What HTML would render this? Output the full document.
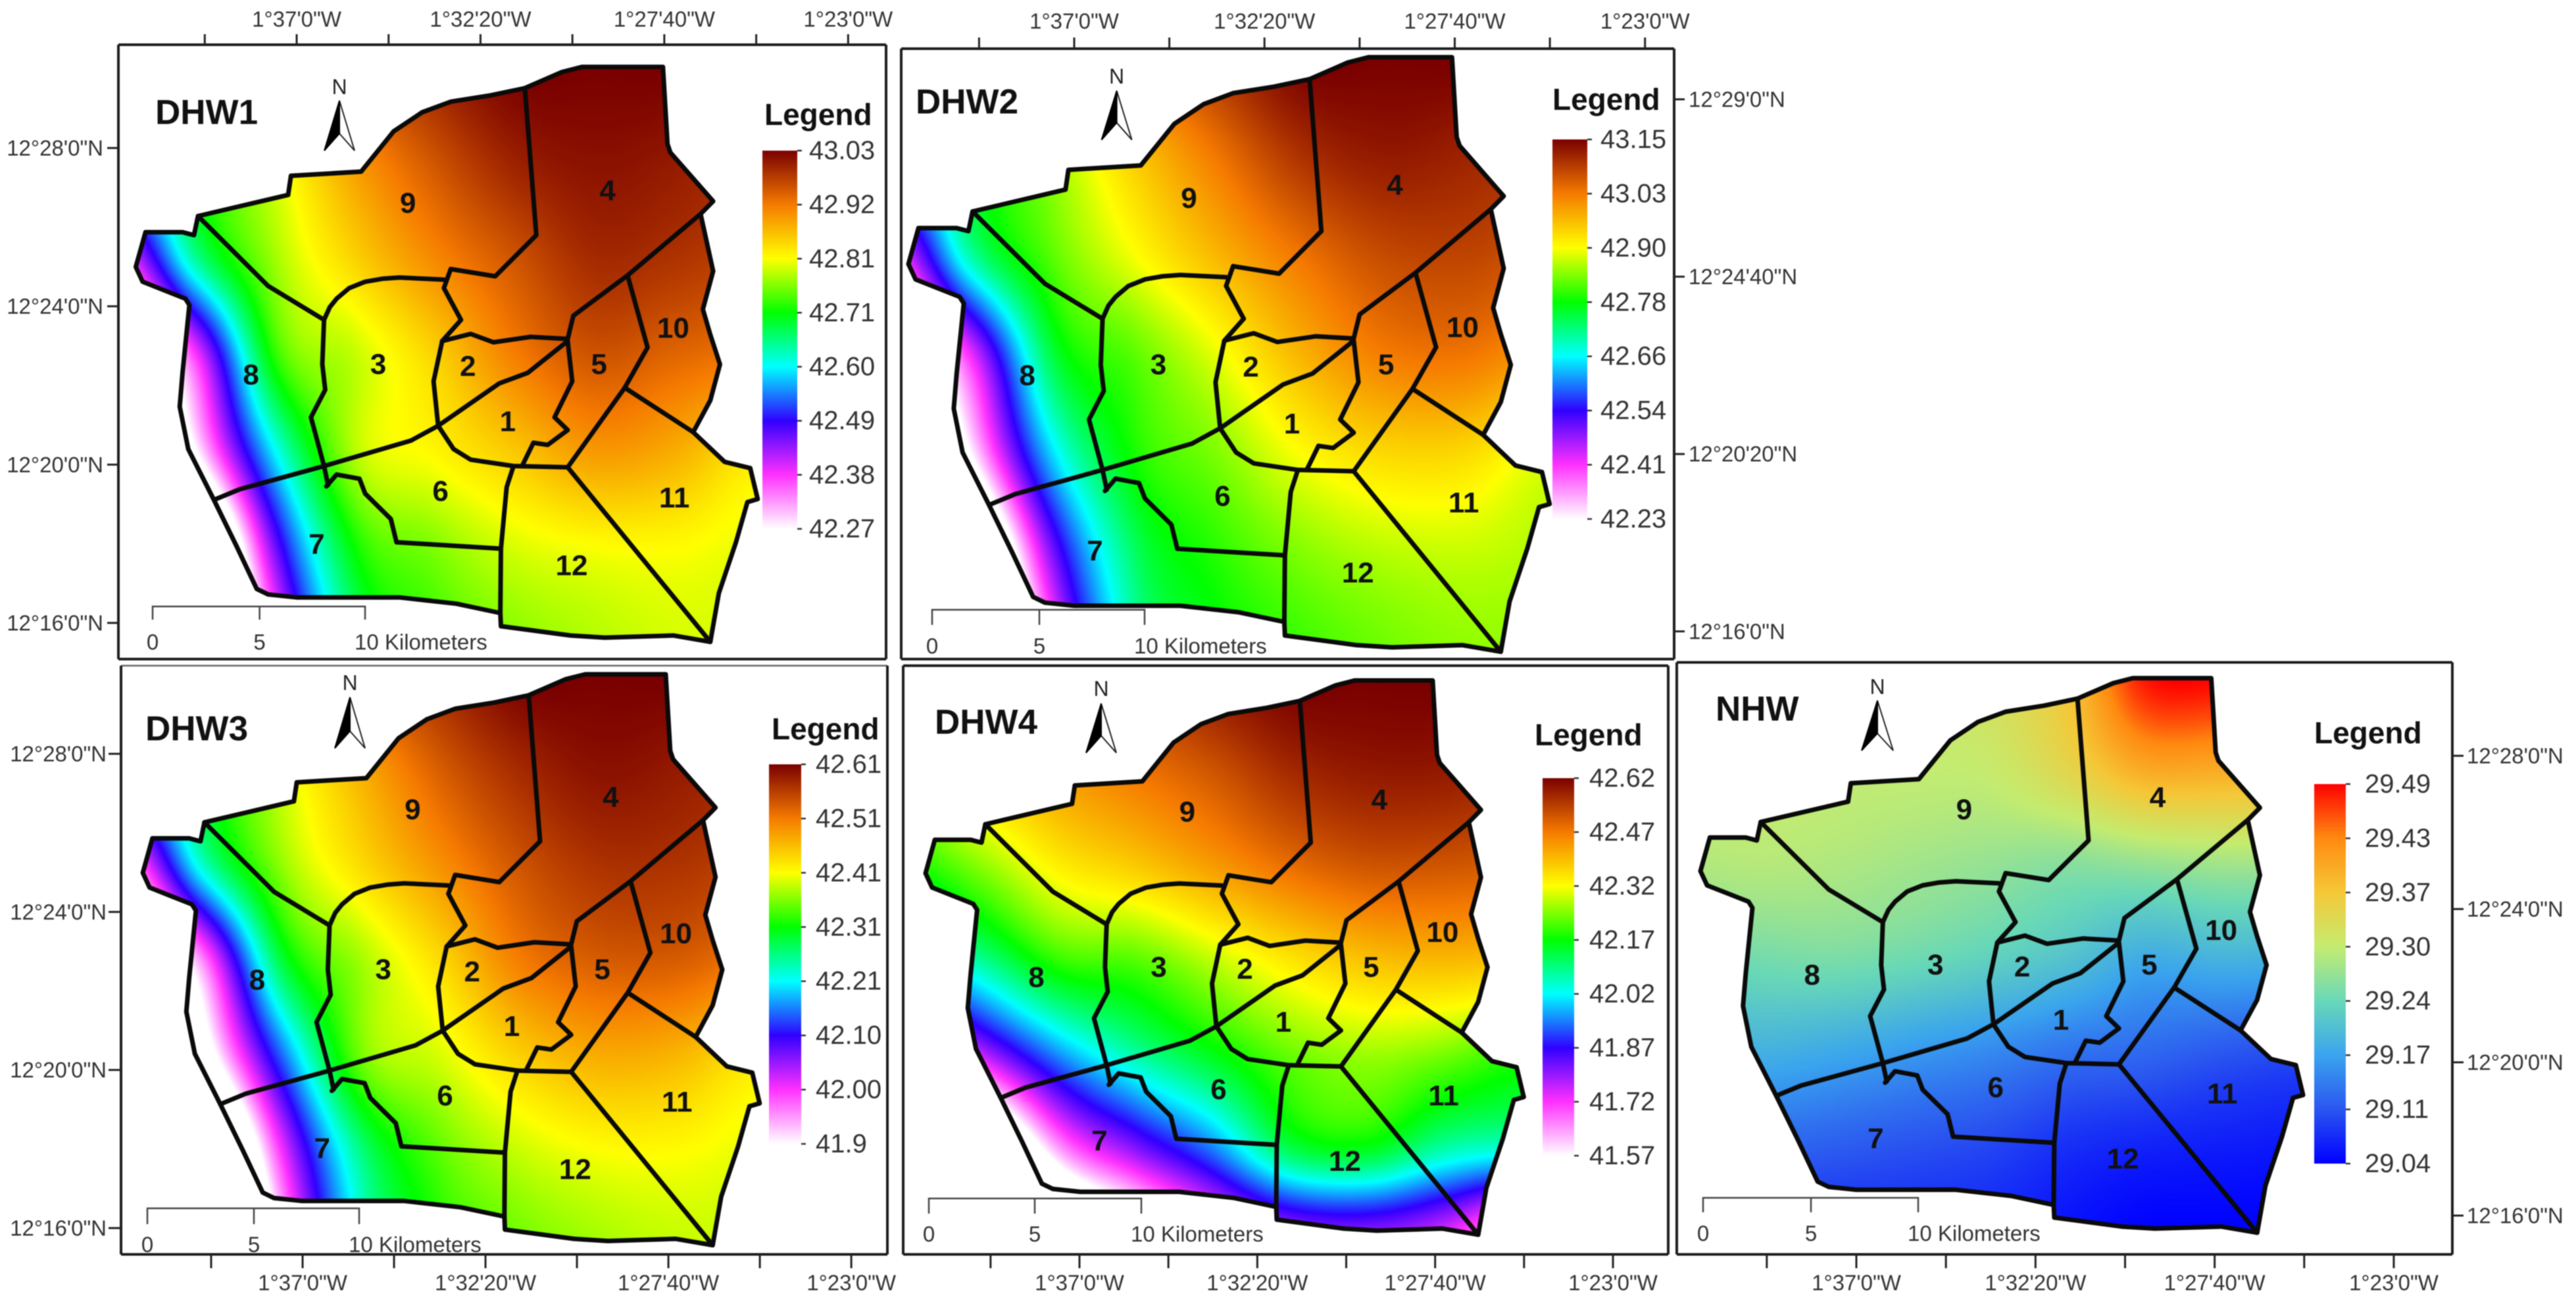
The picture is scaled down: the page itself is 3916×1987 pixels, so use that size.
<!DOCTYPE html>
<html lang="en">
<head>
<meta charset="utf-8">
<title>DHW and NHW surface maps</title>
<style>
html,body{margin:0;padding:0;background:#fff;}
#stage{position:relative;width:3916px;height:1987px;overflow:hidden;background:#fff;font-family:"Liberation Sans",Arial,sans-serif;}
#surface,#overlay{position:absolute;left:0;top:0;}
#overlay{filter:blur(.8px);}
</style>
</head>
<body>
<div id="stage">
<canvas id="surface" width="3916" height="1987"></canvas>
<svg id="overlay" xmlns="http://www.w3.org/2000/svg" width="3916" height="1987" viewBox="0 0 3916 1987"></svg>
</div>
<script>
/* Surface samples: position on each panel's legend scale (0 = bottom, 1 = top),
   read from the picture on a regular grid across the map (west to east, north to south). */
const dhw1Surface = [
 [.50,.62,.78,.90,.96,1,1,1,.98],
 [.40,.58,.70,.82,.90,.96,.98,.97,.95],
 [.10,.48,.66,.76,.84,.90,.95,.94,.92],
 [-.25,.13,.59,.68,.76,.85,.90,.88,.86],
 [-.5,-.02,.42,.67,.72,.77,.82,.80,.74],
 [-.7,-.4,.23,.57,.64,.69,.71,.715,.70],
 [-.9,-.6,.10,.50,.60,.645,.67,.69,.69]
];
const dhw2Surface = [
 [.45,.58,.74,.86,.94,1,1,1,.98],
 [.38,.55,.66,.77,.86,.94,.97,.96,.94],
 [.10,.47,.62,.71,.79,.86,.91,.92,.90],
 [-.2,.14,.53,.62,.70,.79,.85,.86,.82],
 [-.5,-.02,.40,.58,.64,.71,.75,.75,.70],
 [-.7,-.35,.22,.51,.59,.64,.67,.68,.67],
 [-.9,-.6,.10,.47,.56,.60,.63,.65,.65]
];
const dhw3Surface = [
 [.45,.60,.76,.89,.95,1,1,1,.98],
 [.38,.55,.69,.80,.89,.95,.98,.97,.95],
 [.05,.45,.65,.75,.83,.90,.94,.94,.92],
 [-.3,.07,.53,.66,.75,.85,.89,.89,.86],
 [-.6,-.1,.33,.63,.69,.76,.80,.79,.74],
 [-.8,-.45,.13,.49,.62,.68,.71,.715,.70],
 [-1,-.7,.02,.44,.58,.63,.66,.68,.68]
];
const dhw4Surface = [
 [.80,.85,.88,.92,.97,1,1,1,.98],
 [.68,.76,.82,.86,.90,.95,.97,.97,.95],
 [.58,.65,.73,.77,.82,.87,.90,.90,.89],
 [.38,.49,.60,.62,.68,.74,.78,.79,.78],
 [-.02,.19,.37,.48,.56,.63,.66,.64,.60],
 [-.6,-.3,.07,.23,.36,.53,.56,.48,.45],
 [-1,-.7,-.3,-.1,.08,.18,.20,.15,0]
];
const nhwSurface = [
 [.58,.58,.58,.58,.62,.72,.98,1,1],
 [.57,.57,.57,.57,.58,.66,.78,.78,.78],
 [.54,.55,.54,.52,.50,.48,.50,.52,.52],
 [.43,.45,.46,.44,.41,.37,.31,.33,.32],
 [.30,.32,.30,.27,.24,.20,.18,.15,.13],
 [.20,.18,.16,.14,.12,.08,.06,.05,.04],
 [.08,.08,.07,.07,.06,.03,0,0,0]
];

/* Legend values as printed, top to bottom */
const dhw1LegendLabels = ["43.03","42.92","42.81","42.71","42.60","42.49","42.38","42.27"];
const dhw2LegendLabels = ["43.15","43.03","42.90","42.78","42.66","42.54","42.41","42.23"];
const dhw3LegendLabels = ["42.61","42.51","42.41","42.31","42.21","42.10","42.00","41.9"];
const dhw4LegendLabels = ["42.62","42.47","42.32","42.17","42.02","41.87","41.72","41.57"];
const nhwLegendLabels  = ["29.49","29.43","29.37","29.30","29.24","29.17","29.11","29.04"];

/* Graticule: longitudes / latitudes in arc-seconds */
const lonTickSeconds = [5960,5820,5680,5540,5400,5260,5120,4980];
const lonTickLabels  = ["",'1°37\'0"W',"",'1°32\'20"W',"",'1°27\'40"W',"",'1°23\'0"W'];
const latTickSeconds = [44880,44640,44400,44160];
const latTickLabels  = ['12°28\'0"N','12°24\'0"N','12°20\'0"N','12°16\'0"N'];
const latTickSecondsB = [44940,44680,44420,44160];
const latTickLabelsB  = ['12°29\'0"N','12°24\'40"N','12°20\'20"N','12°16\'0"N'];

/* Colour ramps, legend bottom to top */
const rainbowRamp = ["#ffffff","#ff30ff","#3000ff","#00ffff","#00ff00","#ffff00","#f57a00","#7a0000"];
const coolWarmRamp = ["#0000ff","#2a55f0","#3aa4ee","#68d8b8","#c4ec70","#f5c838","#ff8a10","#ff0000"];

/* District geometry, in a shared map space */
const outerBoundary = [[1162,158],[1020,158],[985,170],[920,208],[860,225],[790,240],[740,265],[690,310],[660,360],[633,405],[510,415],[505,460],[347,510],[340,555],[320,548],[255,548],[238,630],[250,665],[325,705],[332,720],[320,880],[315,960],[330,1060],[375,1180],[415,1290],[450,1390],[470,1403],[520,1410],[700,1410],[800,1425],[877,1447],[878,1478],[1000,1500],[1060,1505],[1180,1500],[1245,1515],[1260,1400],[1290,1280],[1310,1185],[1328,1178],[1315,1105],[1270,1090],[1215,1020],[1245,945],[1262,860],[1245,790],[1232,730],[1250,640],[1228,505],[1250,475],[1175,360],[1170,340]];
const innerBoundaries = [
 [[920,208],[940,555],[868,652],[790,635],[778,680],[808,755],[775,805]],
 [[347,510],[470,675],[568,755]],
 [[568,755],[578,725],[590,705],[612,680],[640,665],[670,658],[700,655],[778,660]],
 [[775,805],[825,788],[865,808],[930,795],[995,800]],
 [[775,805],[760,900],[768,1005]],
 [[568,755],[565,860],[570,920],[545,985],[568,1100],[575,1145]],
 [[375,1180],[420,1155],[568,1100],[720,1040],[768,1005],[875,905],[925,880],[995,805]],
 [[768,1005],[795,1060],[825,1085],[900,1100],[995,1103]],
 [[995,805],[1003,900],[972,985],[995,1015],[960,1050],[935,1045],[915,1100]],
 [[995,800],[1005,745],[1100,650],[1135,820],[1095,915],[995,1103]],
 [[1228,505],[1100,650]],
 [[1095,915],[1215,1020]],
 [[900,1100],[888,1150],[878,1295],[877,1447]],
 [[995,1103],[1245,1515]],
 [[878,1295],[695,1280],[685,1225],[640,1165],[630,1130],[590,1120],[572,1148]]
];
const districtLabels = [["1",890,995],["2",820,865],["3",663,860],["4",1065,450],["5",1050,860],["6",772,1160],["7",555,1285],["8",440,885],["9",715,480],["10",1180,775],["11",1182,1175],["12",1002,1335]];

const panels = [
 {id:"dhw1",title:"DHW1",titleX:236,titleY:171,surface:dhw1Surface,ramp:rainbowRamp,legendLabels:dhw1LegendLabels,
  frame:{l:180,t:68,r:1347,b:1002,light:false},map:{ox:0,oy:0,kx:.8673,ky:.6441},
  north:{x:516,n:132,tip:153,base:229,hw:23},
  legend:{tx:1162,ty:174,l:1159,r:1212,top:229,bottom:804,lx:1230},
  bar:{x0:232,xm:394.6,x1:555,y:922,tick:942,label:976},
  lonAxis:{side:"top",xA:451,k:.998,y:68,len:-16,labelY:29},
  latAxis:{side:"left",secs:latTickSeconds,labels:latTickLabels,yA:225,k:1.0028,x:180,len:-17,labelX:157}},
 {id:"dhw2",title:"DHW2",titleX:1392,titleY:155,surface:dhw2Surface,ramp:rainbowRamp,legendLabels:dhw2LegendLabels,
  frame:{l:1370,t:74,r:2545,b:1002,light:false},map:{ox:1168.2,oy:-18.2,kx:.8942,ky:.666},
  north:{x:1697.6,n:116,tip:138,base:212.6,hw:23},
  legend:{tx:2360,ty:151,l:2360,r:2413,top:212,bottom:789,lx:2433},
  bar:{x0:1417,xm:1580,x1:1740,y:927,tick:950,label:982},
  lonAxis:{side:"top",xA:1633,k:1.033,y:74,len:-17,labelY:32},
  latAxis:{side:"right",secs:latTickSecondsB,labels:latTickLabelsB,yA:151,k:1.037,x:2545,len:16,labelX:2567}},
 {id:"dhw3",title:"DHW3",titleX:221,titleY:1108,surface:dhw3Surface,ramp:rainbowRamp,legendLabels:dhw3LegendLabels,
  frame:{l:184,t:1012,r:1349,b:1907,light:false},map:{ox:12.3,oy:924,kx:.8603,ky:.6396},
  north:{x:532,n:1038,tip:1060,base:1137.5,hw:23},
  legend:{tx:1173,ty:1108,l:1169,r:1218,top:1162,bottom:1739,lx:1240},
  bar:{x0:224,xm:386,x1:546,y:1837,tick:1861,label:1892},
  lonAxis:{side:"bottom",xA:460,k:.993,y:1907,len:21,labelY:1950},
  latAxis:{side:"left",secs:latTickSeconds,labels:latTickLabels,yA:1146,k:1.0014,x:184,len:-19,labelX:162}},
 {id:"dhw4",title:"DHW4",titleX:1421,titleY:1098,surface:dhw4Surface,ramp:rainbowRamp,legendLabels:dhw4LegendLabels,
  frame:{l:1373,t:1012,r:2536,b:1907,light:true},map:{ox:1208.4,oy:936.4,kx:.8343,ky:.6209},
  north:{x:1674,n:1047,tip:1069.5,base:1144.5,hw:23},
  legend:{tx:2333,ty:1117,l:2345,r:2393,top:1183,bottom:1757,lx:2416},
  bar:{x0:1412,xm:1573,x1:1735,y:1822,tick:1845,label:1876},
  lonAxis:{side:"bottom",xA:1641,k:.9655,y:1907,len:21,labelY:1950},
  latAxis:null},
 {id:"nhw",title:"NHW",titleX:2608,titleY:1078,surface:nhwSurface,ramp:coolWarmRamp,legendLabels:nhwLegendLabels,
  frame:{l:2549,t:1007,r:3728,b:1907,light:false},map:{ox:2385,oy:932.9,kx:.8404,ky:.6212},
  north:{x:2854,n:1044,tip:1065,base:1141,hw:24},
  legend:{tx:3518,ty:1114,l:3518,r:3566,top:1192,bottom:1769,lx:3595},
  bar:{x0:2589,xm:2753,x1:2916,y:1821,tick:1843,label:1875},
  lonAxis:{side:"bottom",xA:2822,k:.9726,y:1907,len:21,labelY:1950},
  latAxis:{side:"right",secs:latTickSeconds,labels:latTickLabels,yA:1149,k:.9708,x:3728,len:17,labelX:3750}}
];

const GRID_X0 = 200, GRID_DX = 140, GRID_Y0 = 150, GRID_DY = 230;
const SVG_NS = "http://www.w3.org/2000/svg";
const overlay = document.getElementById("overlay");
const defs = document.createElementNS(SVG_NS, "defs");
overlay.appendChild(defs);

function add(parent, tag, attrs, text) {
  const node = document.createElementNS(SVG_NS, tag);
  for (const k in attrs) node.setAttribute(k, attrs[k]);
  if (text !== undefined) node.textContent = text;
  parent.appendChild(node);
  return node;
}
function hexToRgb(h) {
  return [parseInt(h.slice(1,3),16), parseInt(h.slice(3,5),16), parseInt(h.slice(5,7),16)];
}
function rampLookup(ramp) {
  const stops = ramp.map(hexToRgb), n = 1024, table = new Uint8Array((n + 1) * 3);
  for (let i = 0; i <= n; i++) {
    const p = i / n * (stops.length - 1), a = Math.min(Math.floor(p), stops.length - 2), f = p - a;
    for (let c = 0; c < 3; c++) table[i*3+c] = Math.round(stops[a][c] + (stops[a+1][c] - stops[a][c]) * f);
  }
  return table;
}
function spline(a, b, c, d, f) {
  return b + .5 * f * (c - a + f * (2*a - 5*b + 4*c - d + f * (3*(b-c) + d - a)));
}
function surfaceAt(grid, zx, zy) {
  const rows = grid.length, cols = grid[0].length;
  const u = (zx - GRID_X0) / GRID_DX, v = (zy - GRID_Y0) / GRID_DY;
  const i = Math.max(0, Math.min(cols - 2, Math.floor(u))), j = Math.max(0, Math.min(rows - 2, Math.floor(v)));
  const fx = u - i, fy = v - j, vals = [];
  for (let r = j - 1; r <= j + 2; r++) {
    const row = grid[Math.max(0, Math.min(rows - 1, r))];
    vals.push(spline(row[Math.max(0,i-1)], row[i], row[i+1], row[Math.min(cols-1,i+2)], fx));
  }
  return spline(vals[0], vals[1], vals[2], vals[3], fy);
}
function pathFrom(points, m, closed) {
  return points.map((p, i) => (i ? "L" : "M") + (m.ox + p[0]*m.kx).toFixed(1) + " " + (m.oy + p[1]*m.ky).toFixed(1)).join(" ") + (closed ? " Z" : "");
}

/* Paint the continuous surfaces */
const ctx = document.getElementById("surface").getContext("2d");
panels.forEach(function (panel) {
  const m = panel.map, step = 2, table = rampLookup(panel.ramp);
  const xs = outerBoundary.map(p => m.ox + p[0]*m.kx), ys = outerBoundary.map(p => m.oy + p[1]*m.ky);
  const x0 = Math.floor(Math.min(...xs)) - 4, x1 = Math.ceil(Math.max(...xs)) + 4;
  const y0 = Math.floor(Math.min(...ys)) - 4, y1 = Math.ceil(Math.max(...ys)) + 4;
  const w = Math.ceil((x1 - x0) / step), h = Math.ceil((y1 - y0) / step);
  const off = document.createElement("canvas");
  off.width = w; off.height = h;
  const octx = off.getContext("2d"), img = octx.createImageData(w, h);
  for (let py = 0; py < h; py++) {
    const zy = (y0 + py*step - m.oy) / m.ky;
    for (let px = 0; px < w; px++) {
      const zx = (x0 + px*step - m.ox) / m.kx;
      const t = Math.max(0, Math.min(1, surfaceAt(panel.surface, zx, zy)));
      const idx = Math.round(t * 1024) * 3, o = (py*w + px) * 4;
      img.data[o] = table[idx]; img.data[o+1] = table[idx+1]; img.data[o+2] = table[idx+2]; img.data[o+3] = 255;
    }
  }
  octx.putImageData(img, 0, 0);
  ctx.save();
  ctx.beginPath();
  outerBoundary.forEach(function (p, i) {
    const X = m.ox + p[0]*m.kx, Y = m.oy + p[1]*m.ky;
    if (i) ctx.lineTo(X, Y); else ctx.moveTo(X, Y);
  });
  ctx.closePath();
  ctx.clip();
  ctx.imageSmoothingEnabled = true;
  ctx.drawImage(off, x0, y0, w*step, h*step);
  ctx.restore();
});

/* Panels */
panels.forEach(function (panel) {
  const g = add(overlay, "g", {});
  
  

  /* frame */
  const f = panel.frame, strong = "#1c1c1c", soft = panel.light ? "#8a8a8a" : strong, softW = panel.light ? 2 : 4;
  const frameTop = add(g, "line", {x1:f.l,y1:f.t,x2:f.r,y2:f.t,stroke:(panel.id==="dhw3"?"#666":soft),"stroke-width":(panel.id==="dhw3"?2.5:softW)});
  
  
  const frameRight = add(g, "line", {x1:f.r,y1:f.t,x2:f.r,y2:f.b,stroke:soft,"stroke-width":softW});
  
  
  const frameBottom = add(g, "line", {x1:f.l,y1:f.b,x2:f.r,y2:f.b,stroke:strong,"stroke-width":4});
  
  
  const frameLeft = add(g, "line", {x1:f.l,y1:f.t,x2:f.l,y2:f.b,stroke:strong,"stroke-width":4});
  
  

  /* longitude axis */
  const lon = panel.lonAxis;
  const lonX = s => lon.xA + (5820 - s) * lon.k;
  lonTickSeconds.forEach(function (s, i) {
    const tick = add(g, "line", {x1:lonX(s),y1:lon.y,x2:lonX(s),y2:lon.y+lon.len,stroke:"#222","stroke-width":3});
    
    
    if (lonTickLabels[i]) {
      const lab = add(g, "text", {x:lonX(s),y:lon.labelY,"text-anchor":"middle","dominant-baseline":"central","font-size":33,fill:"#333"}, lonTickLabels[i]);
      
      
    }
  });

  /* latitude axis */
  const lat = panel.latAxis;
  if (lat) {
    const latY = s => lat.yA + (lat.secs[0] - s) * lat.k;
    lat.secs.forEach(function (s, i) {
      const tick = add(g, "line", {x1:lat.x,y1:latY(s),x2:lat.x+lat.len,y2:latY(s),stroke:"#222","stroke-width":3});
      
      
      const lab = add(g, "text", {x:lat.labelX,y:latY(s),"text-anchor":lat.side==="left"?"end":"start","dominant-baseline":"central","font-size":33,fill:"#333"}, lat.labels[i]);
      
      
    });
  }

  /* district boundaries */
  const outer = add(g, "path", {d:pathFrom(outerBoundary, panel.map, true),fill:"none",stroke:"#0a0a0a","stroke-width":7,"stroke-linejoin":"round"});
  
  
  innerBoundaries.forEach(function (line) {
    const seg = add(g, "path", {d:pathFrom(line, panel.map, false),fill:"none",stroke:"#0a0a0a","stroke-width":7,"stroke-linejoin":"round","stroke-linecap":"round"});
    
    
  });
  districtLabels.forEach(function (d) {
    const lab = add(g, "text", {x:panel.map.ox+d[1]*panel.map.kx,y:panel.map.oy+d[2]*panel.map.ky,"text-anchor":"middle","dominant-baseline":"central","font-size":44,"font-weight":"bold",fill:"#111"}, d[0]);
    
    
  });

  /* title */
  const title = add(g, "text", {x:panel.titleX,y:panel.titleY,"dominant-baseline":"central","font-size":53,"font-weight":"bold",fill:"#111"}, panel.title);
  
  

  /* north arrow */
  const n = panel.north;
  const nLetter = add(g, "text", {x:n.x,y:n.n,"text-anchor":"middle","dominant-baseline":"central","font-size":32,fill:"#222"}, "N");
  
  
  const nRight = add(g, "polygon", {points:n.x+","+n.tip+" "+(n.x+n.hw)+","+n.base+" "+n.x+","+(n.base-26),fill:"#fff",stroke:"#222","stroke-width":2});
  
  
  const nLeft = add(g, "polygon", {points:n.x+","+n.tip+" "+(n.x-n.hw)+","+n.base+" "+n.x+","+(n.base-26),fill:"#000",stroke:"#000","stroke-width":2});
  
  

  /* legend */
  const L = panel.legend;
  const legendTitle = add(g, "text", {x:L.tx,y:L.ty,"dominant-baseline":"central","font-size":46,"font-weight":"bold",fill:"#111"}, "Legend");
  
  
  const gradId = panel.id + "-ramp";
  const grad = add(defs, "linearGradient", {id:gradId,x1:0,y1:1,x2:0,y2:0});
  panel.ramp.forEach(function (c, i) {
    add(grad, "stop", {offset:i/(panel.ramp.length-1),"stop-color":c});
  });
  const legendBar = add(g, "rect", {x:L.l,y:L.top,width:L.r-L.l,height:L.bottom-L.top,fill:"url(#"+gradId+")"});
  
  
  const legendY = i => L.top + (L.bottom - L.top) * i / (panel.legendLabels.length - 1);
  panel.legendLabels.forEach(function (txt, i) {
    const tick = add(g, "line", {x1:L.r,y1:legendY(i),x2:L.r+7,y2:legendY(i),stroke:"#333","stroke-width":2.5});
    
    
    const lab = add(g, "text", {x:L.lx,y:legendY(i),"dominant-baseline":"central","font-size":40,fill:"#333"}, txt);
    
    
  });

  /* scale bar */
  const b = panel.bar;
  const scaleLine = add(g, "path", {d:"M"+b.x0+" "+b.tick+" V"+b.y+" H"+b.x1+" V"+b.tick+" M"+b.xm+" "+b.y+" V"+b.tick,fill:"none",stroke:"#444","stroke-width":2.5});
  
  
  const s0 = add(g, "text", {x:b.x0,y:b.label,"text-anchor":"middle","dominant-baseline":"central","font-size":33,fill:"#333"}, "0");
  
  
  const s5 = add(g, "text", {x:b.xm,y:b.label,"text-anchor":"middle","dominant-baseline":"central","font-size":33,fill:"#333"}, "5");
  
  
  const s10 = add(g, "text", {x:b.x1-16,y:b.label,"dominant-baseline":"central","font-size":33,fill:"#333"}, "10 Kilometers");
  
  
});
</script>
</body>
</html>
